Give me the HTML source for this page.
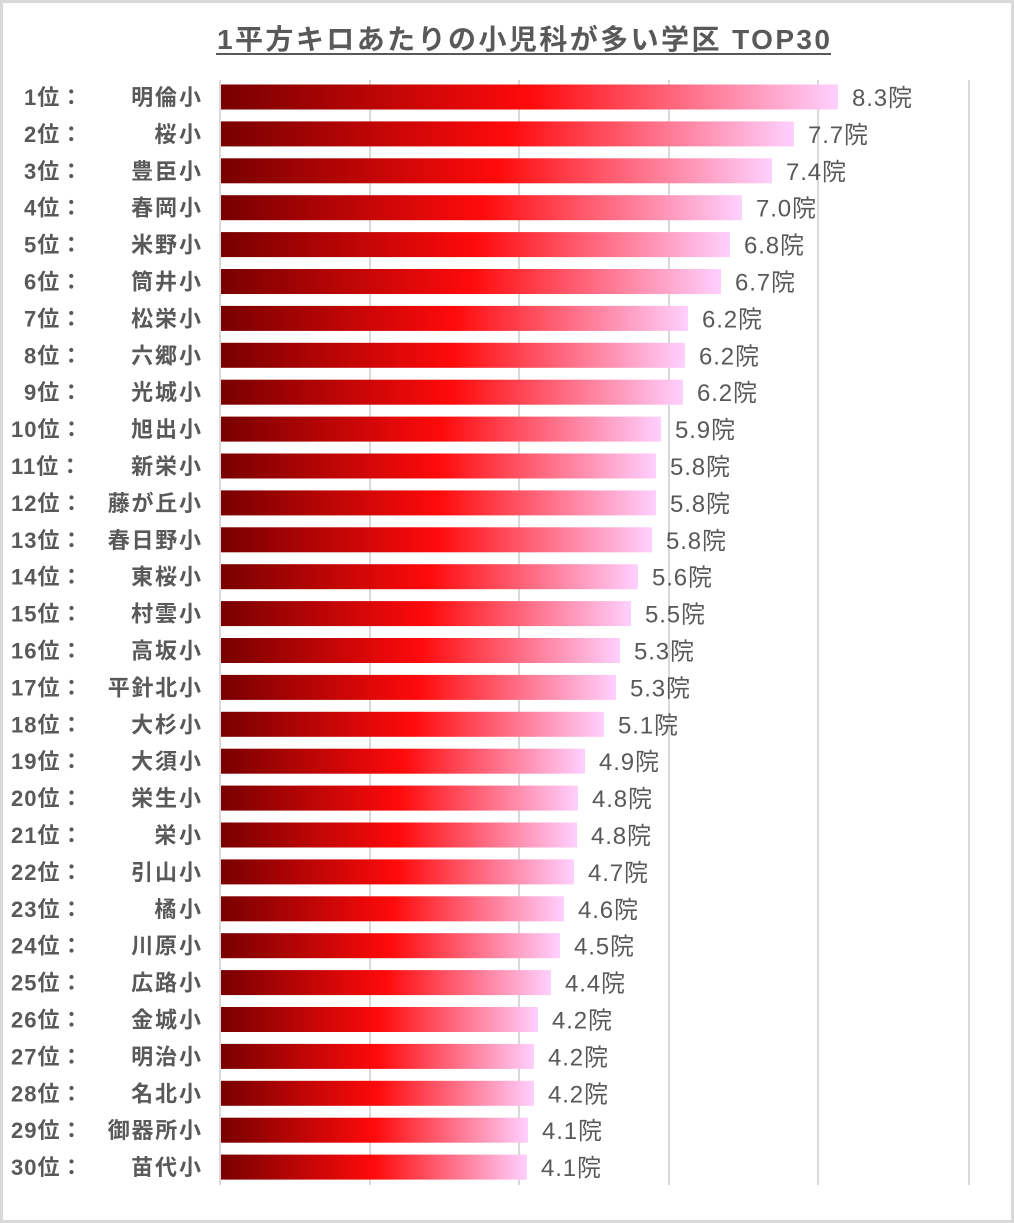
<!DOCTYPE html>
<html><head><meta charset="utf-8"><style>
body{margin:0;background:#fff}
svg{display:block}
text{font-family:"Liberation Sans","Noto Sans CJK JP",sans-serif;fill:#595959}
</style></head><body>
<svg width="1014" height="1223" viewBox="0 0 1014 1223">
<defs><linearGradient id="g" x1="0" x2="1" y1="0" y2="0">
<stop offset="0" stop-color="#780000"/><stop offset="0.5" stop-color="#ff0a0a"/><stop offset="1" stop-color="#ffd0ff"/></linearGradient></defs>
<rect x="1.5" y="1.5" width="1011" height="1220" fill="#fff" stroke="#d9d9d9" stroke-width="3"/>
<text x="217" y="49" font-size="28" font-weight="bold" textLength="613" lengthAdjust="spacing">1平方キロあたりの小児科が多い学区 TOP30</text>
<line x1="216" y1="54" x2="831" y2="54" stroke="#595959" stroke-width="2"/>
<g stroke="#d9d9d9" stroke-width="2">
<line x1="220" y1="80" x2="220" y2="1185"/><line x1="370" y1="80" x2="370" y2="1185"/><line x1="519" y1="80" x2="519" y2="1185"/><line x1="669" y1="80" x2="669" y2="1185"/><line x1="818" y1="80" x2="818" y2="1185"/><line x1="969" y1="80" x2="969" y2="1185"/>
</g>
<g id="rows"></g>
</svg>
<script>
var names=["明倫小","桜小","豊臣小","春岡小","米野小","筒井小","松栄小","六郷小","光城小","旭出小","新栄小","藤が丘小","春日野小","東桜小","村雲小","高坂小","平針北小","大杉小","大須小","栄生小","栄小","引山小","橘小","川原小","広路小","金城小","明治小","名北小","御器所小","苗代小"];
var vals=["8.3","7.7","7.4","7.0","6.8","6.7","6.2","6.2","6.2","5.9","5.8","5.8","5.8","5.6","5.5","5.3","5.3","5.1","4.9","4.8","4.8","4.7","4.6","4.5","4.4","4.2","4.2","4.2","4.1","4.1"];
var ends=[838,794,772,742,730,721,688,685,683,661,656,656,652,638,631,620,616,604,585,578,577,574,564,560,551,538,534,534,528,527];
var g=document.getElementById("rows"),h="";
for(var i=0;i<30;i++){var cy=97+i*36.9;
h+='<rect x="221" y="'+(cy-12.5)+'" width="'+(ends[i]-221)+'" height="25" fill="url(#g)"/>';
h+='<text x="'+(i<9?24:11)+'" y="'+(cy+8)+'" font-size="22" font-weight="bold" letter-spacing="1">'+(i+1)+'位：</text>';
h+='<text x="201" y="'+(cy+8)+'" font-size="22" font-weight="bold" text-anchor="end" textLength="'+(names[i].length*23.3)+'" lengthAdjust="spacing">'+names[i]+'</text>';
h+='<text x="'+(ends[i]+14)+'" y="'+(cy+9)+'" font-size="24" textLength="60" lengthAdjust="spacing">'+vals[i]+'院</text>';}
g.innerHTML=h;
</script>
</body></html>
